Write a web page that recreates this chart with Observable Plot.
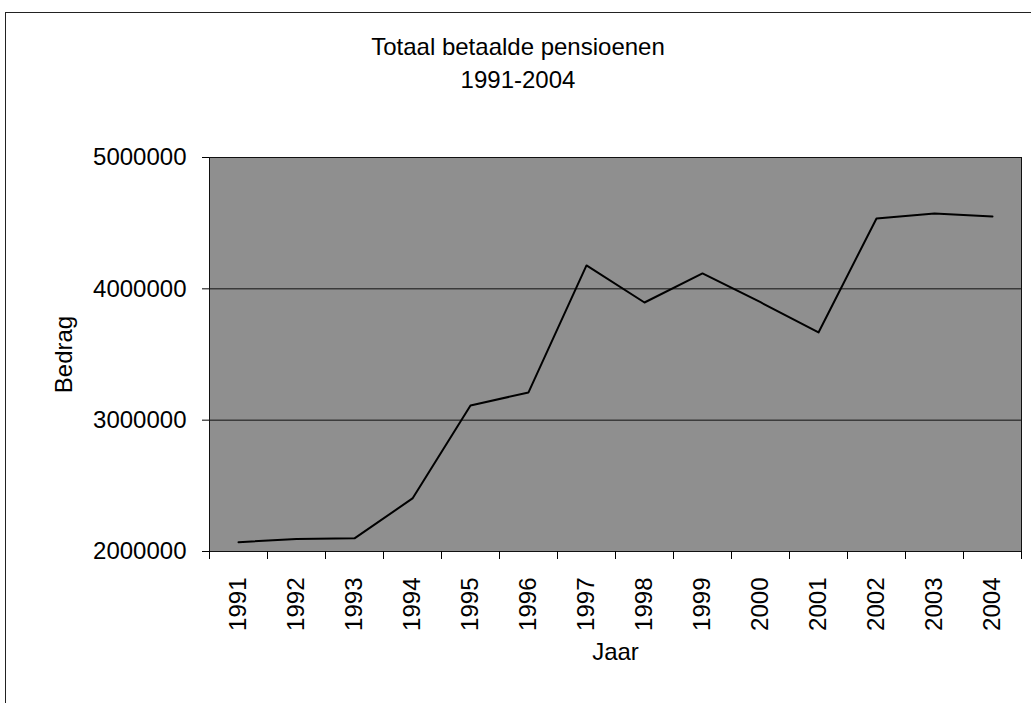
<!DOCTYPE html>
<html>
<head>
<meta charset="utf-8">
<script src="https://cdn.jsdelivr.net/npm/d3@7"></script>
<script src="https://cdn.jsdelivr.net/npm/@observablehq/plot@0.6"></script>
<style>
  html, body { margin: 0; padding: 0; background: #fff; overflow: hidden; }
  body { width: 1031px; height: 703px; position: relative; font-family: "Liberation Sans", Arial, sans-serif; }
  #frame { position: absolute; left: 5px; top: 12px; width: 1040px; height: 720px; border-left: 1px solid #222; border-top: 1px solid #222; box-sizing: border-box; pointer-events: none; }
  #title { position: relative; height: 100px; box-sizing: border-box; padding-top: 30px; padding-left: 5px; text-align: center; font-size: 24px; line-height: 33px; color: #000; }
  #chart svg { display: block; }
</style>
</head>
<body>
<div id="frame"></div>
<div id="title">Totaal betaalde pensioenen<br>1991-2004</div>
<div id="chart"></div>
<script>
const years = [1991, 1992, 1993, 1994, 1995, 1996, 1997, 1998, 1999, 2000, 2001, 2002, 2003, 2004];
const values = [2071000, 2095000, 2100000, 2404000, 3112000, 3211000, 4178000, 3896000, 4117000, 3898000, 3668000, 4536000, 4574000, 4551000];
const yTicks = [2000000, 3000000, 4000000, 5000000];
const gridValues = [3000000, 4000000];
const titleY = "Bedrag";
const titleX = "Jaar";

const data = years.map((year, i) => ({year, value: values[i]}));
const boundaries = years.map(y => y - 0.5).concat([years[years.length - 1] + 0.5]);

const chart = Plot.plot({
  width: 1031,
  height: 603,
  marginTop: 57,
  marginBottom: 152,
  marginLeft: 209,
  marginRight: 10,
  style: {fontFamily: "'Liberation Sans', Arial, sans-serif", fontSize: "24px", background: "transparent", color: "#000", overflow: "visible"},
  x: {type: "linear", domain: [years[0] - 0.5, years[years.length - 1] + 0.5]},
  y: {domain: [yTicks[0], yTicks[yTicks.length - 1]]},
  marks: [
    Plot.frame({fill: "#8f8f8f", stroke: "#111"}),
    Plot.gridY(gridValues, {stroke: "#111", strokeOpacity: 1, strokeWidth: 1}),
    Plot.line(data, {x: "year", y: "value", stroke: "#000", strokeWidth: 2}),
    Plot.axisY(yTicks, {tickSize: 7, tickPadding: 16, tickFormat: d => String(d), label: titleY, labelArrow: "none", labelAnchor: "center", labelOffset: 155, stroke: "#000"}),
    Plot.axisX(boundaries, {tickSize: 8, tickFormat: () => "", label: null, stroke: "#000"}),
    Plot.axisX(years, {tickSize: 0, tickPadding: 26, tickRotate: -90, tickFormat: d => String(d), label: titleX, labelArrow: "none", labelAnchor: "center", labelOffset: 108})
  ]
});
document.getElementById("chart").appendChild(chart);
</script>
</body>
</html>
